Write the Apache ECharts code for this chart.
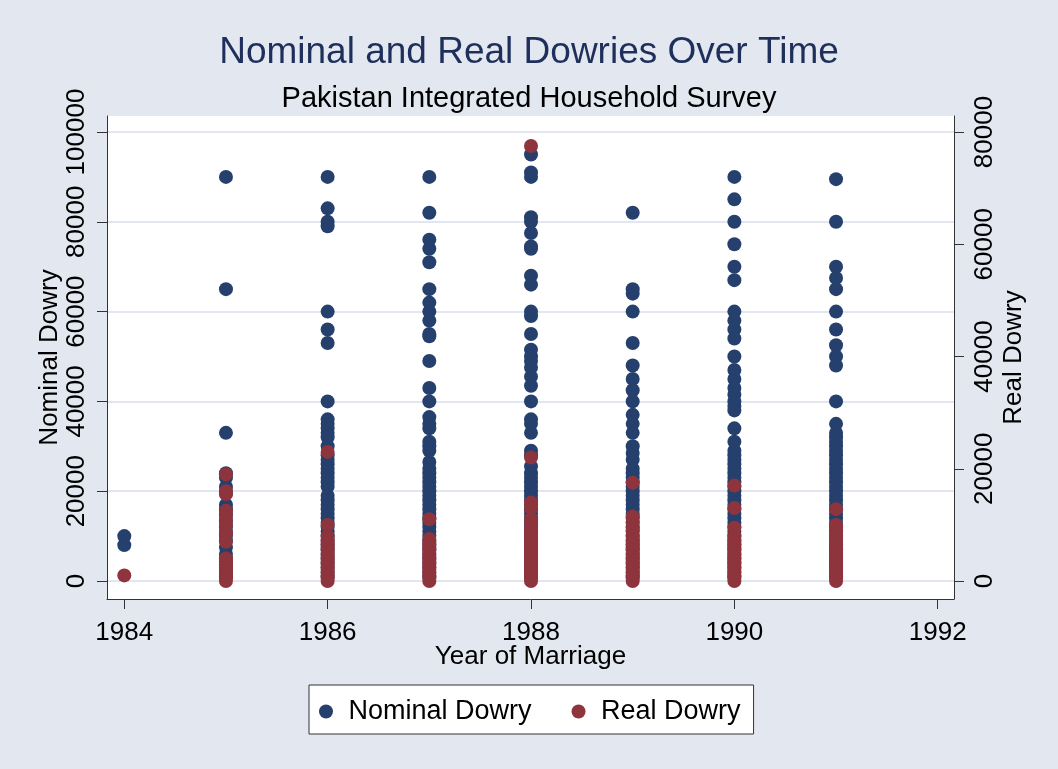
<!DOCTYPE html>
<html>
<head>
<meta charset="utf-8">
<title>Nominal and Real Dowries Over Time</title>
<script src="https://cdn.jsdelivr.net/npm/echarts@6/dist/echarts.min.js"></script>
<style>
  html, body { margin: 0; padding: 0; background: #e2e7f0; }
  #chart { width: 1058px; height: 769px; }
</style>
</head>
<body>
<div id="chart"></div>
<script>
// tick labels
const yearTicks = [1984, 1986, 1988, 1990, 1992];
const nominalTicks = [0, 20000, 40000, 60000, 80000, 100000];
const realTicks = [0, 20000, 40000, 60000, 80000];

// nominal dowry
const nominal1984 = [10000, 8000];
const nominal1985 = [90000, 65000, 33000, 24000, 23000, 21000, 19500, 17000, 16000, 15000, 13500, 12000,
  11000, 10000, 9000, 7500, 6000, 5000, 4000, 3000, 2000, 1000];
const nominal1986 = [90000, 83000, 80000, 79000, 60000, 56000, 53000, 40000, 36000, 35000, 34000, 33000,
  32000, 30000, 28000, 27000, 26000, 25000, 24000, 23000, 22000, 21000, 19000, 18000, 17000, 16000, 15000,
  14000, 13000, 12000, 11000, 10000, 9000, 8000, 7000, 6000, 5000, 4000, 3000, 2000, 1000];
const nominal1987 = [90000, 82000, 76000, 74000, 71000, 65000, 62000, 60000, 58000, 55000, 54500, 49000,
  43000, 40000, 36500, 35000, 34000, 31000, 30000, 29000, 26500, 25000, 24000, 23000, 22000, 21000, 20000,
  19000, 18000, 17000, 16000, 15000, 14000, 13000, 12000, 11000, 10000, 9000, 8000, 7000, 6000, 5000, 4000,
  3000, 2000, 1000];
const nominal1988 = [95000, 91000, 90000, 81000, 80000, 77500, 74500, 74000, 68000, 66000, 60000, 59000,
  55000, 51500, 50000, 49000, 47500, 45500, 43500, 40000, 36000, 35000, 33000, 29000, 28000, 25500, 24000,
  23000, 22000, 21000, 20000, 19000, 18000, 17000, 16000, 15000, 14000, 13000, 12000, 11000, 10000, 9000,
  8000, 7000, 6000, 5000, 4000, 3000, 2000, 1000];
const nominal1989 = [82000, 65000, 64000, 60000, 53000, 48000, 45000, 42500, 40000, 37000, 35000, 33000,
  30000, 28500, 27000, 25000, 24000, 23000, 22000, 21000, 20000, 19000, 18000, 17000, 16000, 15000, 14000,
  13000, 12000, 11000, 10000, 9000, 8000, 7000, 6000, 5000, 4000, 3000, 2000, 1000];
const nominal1990 = [90000, 85000, 80000, 75000, 70000, 67000, 60000, 58000, 56000, 54000, 50000, 47000,
  45000, 43000, 41500, 40000, 39000, 38000, 34000, 31000, 29000, 28000, 27000, 26000, 25000, 24000, 23000,
  22000, 21000, 20000, 19000, 18000, 17000, 16000, 15000, 14000, 13000, 12000, 11000, 10000, 9000, 8000,
  7000, 6000, 5000, 4000, 3000, 2000, 1000];
const nominal1991 = [89500, 80000, 70000, 67500, 65000, 60000, 56000, 52500, 50000, 48000, 40000, 35000,
  33000, 32000, 31000, 30000, 29000, 28000, 27000, 26000, 25000, 24000, 23000, 22000, 21000, 20000, 19000,
  18000, 17000, 16000, 15000, 14000, 13000, 12000, 11000, 10000, 9000, 8000, 7000, 6000, 5000, 4000, 3000,
  2000, 1000];

// real dowry
const real1984 = [1000];
const real1985 = [19000, 16000, 15500, 12500, 11500, 10500, 10000, 8500, 7000, 4000, 3500, 3000, 2500,
  2000, 1500, 1000, 500, 0];
const real1986 = [23000, 10000, 8000, 7500, 7000, 6500, 6000, 5500, 5000, 4500, 4000, 3500, 3000, 2500,
  2000, 1500, 1000, 500, 0];
const real1987 = [11000, 7500, 7000, 6500, 6000, 5500, 5000, 4500, 4000, 3500, 3000, 2500, 2000, 1500,
  1000, 500, 0];
const real1988 = [77500, 22000, 14000, 13000, 11000, 10000, 9000, 8500, 8000, 7500, 7000, 6500, 6000,
  5500, 5000, 4500, 4000, 3500, 3000, 2500, 2000, 1500, 1000, 500, 0];
const real1989 = [17500, 11500, 10500, 9500, 9000, 8000, 7500, 7000, 6500, 6000, 5500, 5000, 4500, 4000,
  3500, 3000, 2500, 2000, 1500, 1000, 500, 0];
const real1990 = [17000, 13000, 9500, 8000, 7500, 7000, 6500, 6000, 5500, 5000, 4500, 4000, 3500, 3000,
  2500, 2000, 1500, 1000, 500, 0];
const real1991 = [12800, 10000, 9500, 9000, 8000, 7500, 7000, 6500, 6000, 5500, 5000, 4500, 4000, 3500,
  3000, 2500, 2000, 1500, 1000, 500, 0];

const years = [1984, 1985, 1986, 1987, 1988, 1989, 1990, 1991];
const nominalByYear = [nominal1984, nominal1985, nominal1986, nominal1987, nominal1988, nominal1989, nominal1990, nominal1991];
const realByYear = [real1984, real1985, real1986, real1987, real1988, real1989, real1990, real1991];

function toPoints(byYear) {
  const pts = [];
  byYear.forEach((vals, i) => {
    vals.forEach(v => pts.push([years[i], v]));
  });
  return pts;
}

// plain numbers, no thousands separator
const plain = v => String(v);

const font = "'Liberation Sans', Arial, sans-serif";
const navy = "#26406e";
const maroon = "#8e343c";
const axisColor = "#333";

const chart = echarts.init(document.getElementById("chart"));
chart.setOption({
  animation: false,
  backgroundColor: "#e2e7f0",
  textStyle: { fontFamily: font },
  title: [
    {
      text: "Nominal and Real Dowries Over Time",
      left: "center",
      top: 34,
      padding: 0,
      textStyle: { fontSize: 37, fontWeight: "normal", color: "#1f2f5b", fontFamily: font },
    },
    {
      text: "Pakistan Integrated Household Survey",
      left: "center",
      top: 84,
      padding: 0,
      textStyle: { fontSize: 29, fontWeight: "normal", color: "#000", fontFamily: font },
    },
  ],
  grid: {
    left: 107,
    right: 104,
    top: 116,
    bottom: 170,
    show: true,
    backgroundColor: "#fff",
    borderWidth: 0,
  },
  legend: {
    left: 309,
    top: 685,
    orient: "horizontal",
    icon: "circle",
    itemWidth: 35,
    itemHeight: 14,
    itemGap: 40,
    padding: [13, 13, 9, 10],
    backgroundColor: "#fff",
    borderColor: "#333",
    borderWidth: 1,
    borderRadius: 0,
    textStyle: { fontSize: 27, color: "#000", fontFamily: font },
    data: ["Nominal Dowry", "Real Dowry"],
  },
  xAxis: {
    type: "value",
    min: 1983.83,
    max: 1992.16,
    name: "Year of Marriage",
    nameLocation: "middle",
    nameGap: 45,
    nameMoveOverlap: false,
    nameTextStyle: { fontSize: 26, color: "#000" },
    axisLine: { show: true, onZero: false, lineStyle: { color: axisColor, width: 1 } },
    axisTick: { show: true, length: 10, customValues: yearTicks, lineStyle: { color: axisColor } },
    axisLabel: { customValues: yearTicks, formatter: plain, fontSize: 26, color: "#000", margin: 21 },
    splitLine: { show: false },
  },
  yAxis: [
    {
      type: "value",
      position: "left",
      min: -4009,
      max: 103564,
      name: "Nominal Dowry",
      nameLocation: "middle",
      nameGap: 44,
      nameMoveOverlap: false,
      nameTextStyle: { fontSize: 26, color: "#000" },
      axisLine: { show: true, onZero: false, lineStyle: { color: axisColor, width: 1 } },
      axisTick: { show: true, length: 10, customValues: nominalTicks, lineStyle: { color: axisColor } },
      axisLabel: { customValues: nominalTicks, formatter: plain, rotate: 90, fontSize: 26, color: "#000", margin: 17 },
      splitLine: { show: true, lineStyle: { color: "#e1e6f1", width: 2 } },
    },
    {
      type: "value",
      position: "right",
      min: -3207,
      max: 82851,
      name: "Real Dowry",
      nameLocation: "middle",
      nameGap: 47,
      nameMoveOverlap: false,
      nameTextStyle: { fontSize: 26, color: "#000" },
      axisLine: { show: true, onZero: false, lineStyle: { color: axisColor, width: 1 } },
      axisTick: { show: true, length: 10, customValues: realTicks, lineStyle: { color: axisColor } },
      axisLabel: { customValues: realTicks, formatter: plain, rotate: 90, fontSize: 26, color: "#000", margin: 18 },
      splitLine: { show: false },
    },
  ],
  series: [
    {
      name: "Nominal Dowry",
      type: "scatter",
      yAxisIndex: 0,
      symbol: "circle",
      symbolSize: 14,
      itemStyle: { color: navy, opacity: 1 },
      data: toPoints(nominalByYear),
    },
    {
      name: "Real Dowry",
      type: "scatter",
      yAxisIndex: 1,
      symbol: "circle",
      symbolSize: 14,
      itemStyle: { color: maroon, opacity: 1 },
      data: toPoints(realByYear),
    },
  ],
});
</script>
</body>
</html>
